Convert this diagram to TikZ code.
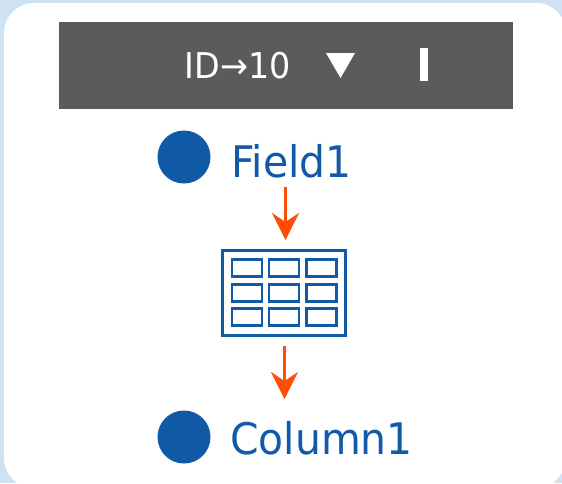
\documentclass[tikz,border=0pt]{standalone}
\usepackage{fontspec}
\setmainfont{DejaVu Sans}
\newfontfamily\narrowfont[FakeStretch=0.94]{DejaVu Sans}
\usetikzlibrary{arrows.meta}
\definecolor{bgblue}{HTML}{CFE2F3}
\definecolor{bandgray}{HTML}{5B5B5B}
\definecolor{inkblue}{HTML}{115AA7}
\definecolor{arroworange}{HTML}{FF4D06}
\tikzset{
  dot/.style={circle,fill=inkblue,draw=none,inner sep=0pt,minimum size=53pt},
  biglabel/.style={anchor=base west,inner sep=0pt,text=inkblue,font=\narrowfont\fontsize{43.5}{44}\selectfont},
  flow/.style={draw=arroworange,line width=3.4pt,-{Stealth[length=27pt,width=27pt,inset=9pt]}},
  gridline/.style={draw=inkblue,line width=2.8pt,fill=white},
  cell/.style={gridline,rectangle,inner sep=0pt,minimum width=30pt,minimum height=16.5pt},
}
\begin{document}
\begin{tikzpicture}[x=1pt,y=-1pt]
\useasboundingbox (0,0) rectangle (562,483);
\fill[bgblue] (0,0) rectangle (562,483);
\begin{scope}
\clip (0,0) rectangle (562,483);
\fill[white,rounded corners=30pt] (4,3) rectangle (566,488);
\end{scope}
\fill[bandgray] (59,22) rectangle (513,109);
\node[anchor=base,inner sep=0pt,text=white,font=\narrowfont\fontsize{35.5}{36}\selectfont] (idlabel) at (237.5,78) {ID→10};
\fill[white] (326,53) -- (355,53) -- (340.5,78) -- cycle;
\fill[white] (419.5,48) rectangle (428,81);

\node[dot] (dotA) at (184,157) {};
\node[biglabel] (field) at (231,177) {Field1};
\node[dot,minimum width=52pt] (dotB) at (184,437) {};
\node[biglabel] (column) at (230,454) {Column1};

\node[gridline,rectangle,inner sep=0pt,minimum width=123.5pt,minimum height=85.5pt,line width=3pt] (tbl) at (284,293) {};
\foreach \r/\y in {1/268,2/293,3/317}{
  \foreach \c/\x in {1/247,2/284,3/321.5}{
    \node[cell] (c\r\c) at (\x,\y) {};
  }
}
\coordinate (a1s) at (285.5,187);
\coordinate (a1e) at (285.5,240);
\coordinate (a2s) at (284.5,346);
\coordinate (a2e) at (284.5,399);
\draw[flow] (a1s) -- (a1e);
\draw[flow] (a2s) -- (a2e);
\end{tikzpicture}
\end{document}
